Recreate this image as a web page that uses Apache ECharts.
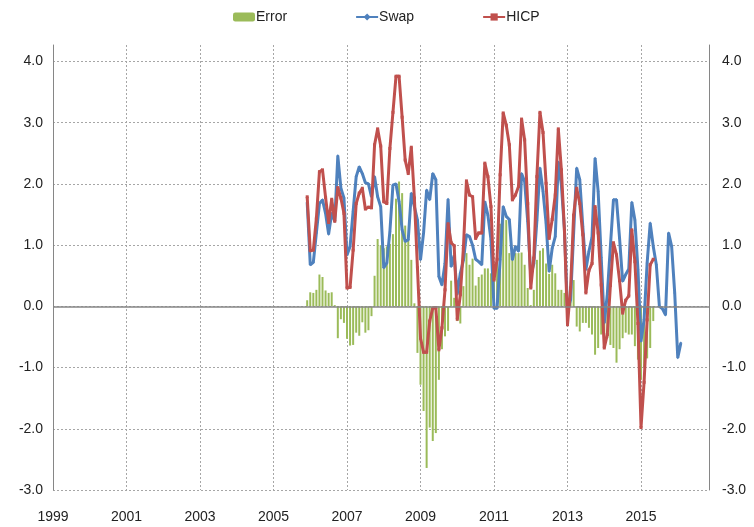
<!DOCTYPE html>
<html>
<head>
<meta charset="utf-8">
<script src="https://cdn.jsdelivr.net/npm/echarts@6/dist/echarts.min.js"></script>
<style>
  html, body { margin: 0; padding: 0; background: #fff; }
  #chart { width: 754px; height: 527px; }
</style>
</head>
<body>
<div id="chart"></div>
<script>
// monthly data, first point Dec 2005
const startYear = 2005;
const startMonth = 12;

const hicp = [
  1.79,
  0.91, 0.92, 1.44, 2.20, 2.23, 1.78, 1.37, 1.75, 1.39, 1.94, 1.77, 1.52,
  0.30, 0.31, 0.92, 1.68, 1.85, 1.93, 1.59, 1.62, 1.61, 2.64, 2.90, 2.62,
  1.71, 1.68, 2.58, 3.17, 3.76, 3.76, 3.09, 2.39, 2.17, 2.60, 1.77, 0.63,
  -0.52, -0.75, -0.75, -0.24, -0.03, -0.02, -0.71, -0.35, 0.27, 1.35, 1.04, 0.99,
  -0.21, 0.19, 0.95, 2.05, 1.82, 1.79, 1.11, 1.20, 1.20, 2.34, 2.12, 1.63,
  0.43, 0.77, 2.15, 3.16, 2.96, 2.64, 1.74, 1.82, 1.96, 3.06, 2.72, 1.68,
  0.30, 0.79, 2.12, 3.17, 2.84, 2.01, 1.11, 1.42, 1.82, 2.90, 2.23, 1.24,
  -0.30, 0.30, 1.49, 1.93, 1.68, 1.17, 0.22, 0.59, 0.70, 1.63, 1.20, 0.35,
  -0.68, -0.46, 0.34, 1.04, 0.84, 0.42, -0.11, 0.10, 0.17, 1.25, 0.73, -0.28,
  -1.98, -1.24, -0.22, 0.68, 0.77
];

const swap = [
  1.70,
  0.68, 0.72, 1.20, 1.68, 1.74, 1.52, 1.18, 1.52, 1.39, 2.46, 1.93, 1.77,
  0.84, 0.98, 1.55, 2.12, 2.28, 2.17, 2.02, 2.00, 1.79, 2.12, 1.79, 1.63,
  0.63, 0.71, 1.22, 1.98, 2.00, 1.71, 1.25, 1.06, 1.09, 1.85, 1.63, 1.41,
  0.76, 1.20, 1.90, 1.74, 2.17, 2.07, 0.49, 0.35, 0.70, 1.75, 0.65, 0.83,
  0.20, 0.54, 0.75, 1.17, 1.14, 1.00, 0.77, 0.73, 0.68, 1.71, 1.49, 1.09,
  -0.03, -0.03, 0.76, 1.63, 1.47, 1.42, 0.76, 0.98, 0.90, 2.17, 2.04, 1.39,
  0.50, 0.70, 1.40, 2.26, 1.88, 1.36, 0.57, 0.95, 1.14, 2.36, 1.98, 1.25,
  -0.08, 0.11, 1.20, 2.26, 2.07, 1.30, 0.60, 0.90, 1.13, 2.42, 1.88, 0.80,
  -0.27, 0.20, 0.98, 1.74, 1.74, 1.11, 0.41, 0.52, 0.61, 1.70, 1.41, 0.60,
  -0.57, -0.22, 0.71, 1.36, 0.98, 0.68, 0.00, -0.04, -0.14, 1.20, 0.98, 0.22,
  -0.84, -0.60
];

const error = [
  0.10,
  0.23, 0.22, 0.27, 0.52, 0.48, 0.26, 0.22, 0.23, 0.02, -0.52, -0.21, -0.27,
  -0.53, -0.64, -0.63, -0.43, -0.48, -0.26, -0.43, -0.39, -0.16, 0.50, 1.10, 1.00,
  0.95, 0.98, 1.02, 1.18, 1.76, 2.04, 1.85, 1.32, 1.09, 0.76, 0.05, -0.76,
  -1.28, -1.71, -2.64, -1.98, -2.20, -2.07, -1.20, -0.70, -0.49, -0.40, 0.42, 0.14,
  -0.24, -0.28, 0.33, 0.87, 0.68, 0.78, 0.34, 0.48, 0.52, 0.62, 0.62, 0.54,
  0.46, 0.79, 1.35, 1.50, 1.41, 0.87, 0.76, 0.87, 0.87, 0.88, 0.68, 0.30,
  0.02, 0.27, 0.76, 0.91, 0.95, 0.70, 0.53, 0.68, 0.54, 0.27, 0.27, 0.22,
  0.05, 0.10, 0.43, -0.33, -0.41, -0.27, -0.27, -0.35, -0.46, -0.79, -0.68, -0.46,
  -0.65, -0.52, -0.63, -0.68, -0.92, -0.70, -0.52, -0.43, -0.46, -0.46, -0.65, -0.87,
  -1.20, -1.00, -0.85, -0.68, -0.24
];

const xMin = 1999;
const xMax = 2016.85;
const yMin = -3;
const yMax = 4.27;

// month index -> decimal year
function toPairs(values) {
  return values.map((v, i) => [startYear + (startMonth - 1 + i) / 12, v]);
}

const fontFamily = "'Liberation Sans', sans-serif";
const gridColor = "#a6a6a6";
const isWhole = (v) => Math.abs(v - Math.round(v)) < 1e-6;

let chart = echarts.init(document.getElementById("chart"));

let yAxisBase = {
  type: "value",
  min: yMin,
  max: yMax,
  interval: 1,
  axisLine: { show: true, lineStyle: { color: "#868686", width: 1 } },
  axisTick: { show: false },
  axisLabel: {
    color: "#222",
    fontFamily: fontFamily,
    fontSize: 14,
    formatter: (v) => (isWhole(v) && v < yMax - 0.01 ? v.toFixed(1) : ""),
  },
};

let option = {
  animation: false,
  textStyle: { fontFamily: fontFamily },
  legend: {
    data: ["Error", "Swap", "HICP"],
    left: 228,
    top: 5,
    itemWidth: 22,
    itemHeight: 9,
    itemGap: 68,
    textStyle: { fontSize: 14, color: "#222", fontFamily: fontFamily, padding: [0, 0, 0, -4] },
  },
  grid: {
    left: 53,
    right: 45,
    top: 45,
    bottom: 37,
  },
  xAxis: {
    type: "value",
    min: xMin,
    max: xMax,
    interval: 2,
    axisLine: { show: false },
    axisTick: { show: false },
    axisLabel: {
      color: "#222",
      fontFamily: fontFamily,
      fontSize: 14,
      margin: 20,
      formatter: (v) => (isWhole(v) ? String(Math.round(v)) : ""),
    },
    splitLine: {
      show: true,
      lineStyle: { color: gridColor, type: [2, 2], width: 1 },
    },
  },
  yAxis: [
    Object.assign({}, yAxisBase, {
      position: "left",
      axisLabel: Object.assign({}, yAxisBase.axisLabel, { margin: 10 }),
      splitLine: {
        show: true,
        lineStyle: {
          color: [gridColor, gridColor, gridColor, gridColor, gridColor, gridColor, gridColor, gridColor, "rgba(0,0,0,0)"],
          type: [2, 2],
          width: 1,
        },
      },
    }),
    Object.assign({}, yAxisBase, {
      position: "right",
      axisLabel: Object.assign({}, yAxisBase.axisLabel, { margin: 13 }),
      splitLine: { show: false },
    }),
  ],
  series: [
    {
      name: "Error",
      type: "bar",
      barWidth: 2,
      itemStyle: { color: "#9bbb59" },
      data: toPairs(error),
      markLine: {
        silent: true,
        symbol: "none",
        label: { show: false },
        lineStyle: { color: "#868686", type: "solid", width: 1.5 },
        data: [{ yAxis: 0 }],
      },
    },
    {
      name: "Swap",
      type: "line",
      symbol: "diamond",
      symbolSize: 3,
      lineStyle: { color: "#4f81bd", width: 3 },
      itemStyle: { color: "#4f81bd" },
      data: toPairs(swap),
      z: 3,
    },
    {
      name: "HICP",
      type: "line",
      symbol: "rect",
      symbolSize: 3,
      lineStyle: { color: "#c0504d", width: 3 },
      itemStyle: { color: "#c0504d" },
      data: toPairs(hicp),
      z: 4,
    },
  ],
};

chart.setOption(option);
</script>
</body>
</html>
